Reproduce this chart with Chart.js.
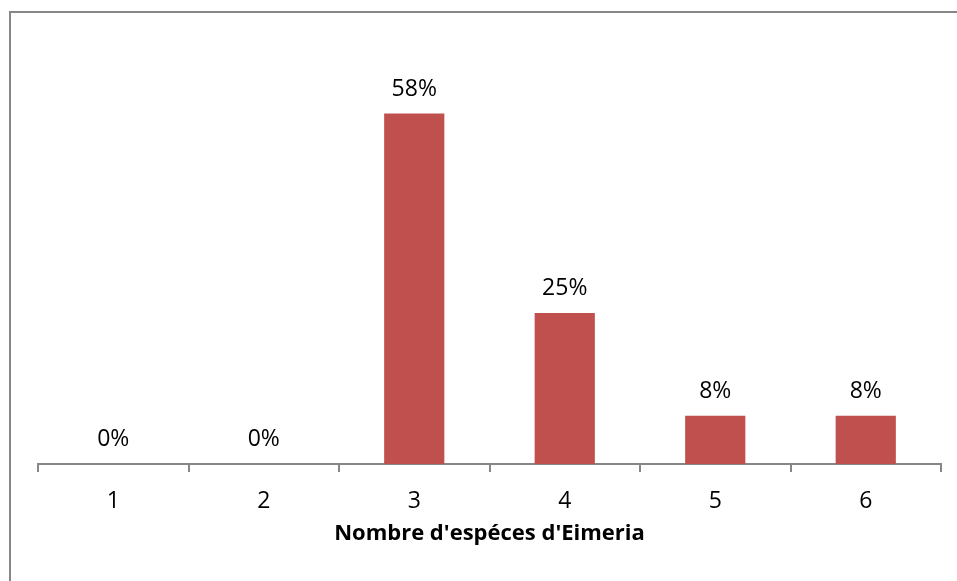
<!DOCTYPE html>
<html>
<head>
<meta charset="utf-8">
<script src="https://cdn.jsdelivr.net/npm/chart.js@4.4.0/dist/chart.umd.min.js"></script>
<style>
  html, body { margin: 0; padding: 0; background: #fff; }
  #wrap { position: relative; width: 957px; height: 581px; overflow: hidden; }
  #frame { position: absolute; left: 9px; top: 11px; width: 1000px; height: 700px; border: 2px solid #878787; }
  #c { position: absolute; left: 0; top: 0; }
</style>
</head>
<body>
<div id="wrap">
  <div id="frame"></div>
  <canvas id="c" width="957" height="581"></canvas>
</div>
<script>
var categories = ['1', '2', '3', '4', '5', '6'];
var values = [0, 0, 58, 25, 8, 8];
var axisTitle = "Nombre d'espéces d'Eimeria";

var fontFamily = "'Open Sans', 'Noto Sans', sans-serif";

// draws the "58%" labels over each bar
var valueLabels = {
    id: 'valueLabels',
    afterDatasetsDraw: function(chart) {
        var ctx = chart.ctx;
        var meta = chart.getDatasetMeta(0);
        ctx.save();
        ctx.font = '23px ' + fontFamily;
        ctx.fillStyle = '#000';
        ctx.textAlign = 'center';
        ctx.textBaseline = 'alphabetic';
        meta.data.forEach(function(bar, i) {
            ctx.fillText(values[i] + '%', bar.x, bar.y - 18);
        });
        ctx.restore();
    }
};

new Chart(document.getElementById('c'), {
    type: 'bar',
    data: {
        labels: categories,
        datasets: [{
            data: values,
            backgroundColor: '#C0504D',
            borderWidth: 0,
            barPercentage: 0.4,
            categoryPercentage: 1
        }]
    },
    options: {
        responsive: false,
        animation: false,
        layout: {
            padding: { left: 38, right: 16, top: 41, bottom: 30 }
        },
        plugins: {
            legend: { display: false },
            tooltip: { enabled: false }
        },
        scales: {
            y: {
                display: false,
                min: 0,
                max: 70
            },
            x: {
                grid: {
                    drawOnChartArea: false,
                    drawTicks: true,
                    tickLength: 8,
                    color: '#878787',
                    lineWidth: 2
                },
                border: { color: '#878787', width: 2 },
                ticks: {
                    color: '#000',
                    padding: 16,
                    font: { family: fontFamily, size: 23 }
                },
                title: {
                    display: true,
                    text: axisTitle,
                    color: '#000',
                    font: { family: fontFamily, size: 22, weight: 'bold' },
                    padding: { top: -11, bottom: 4 }
                }
            }
        }
    },
    plugins: [valueLabels]
});
</script>
</body>
</html>
